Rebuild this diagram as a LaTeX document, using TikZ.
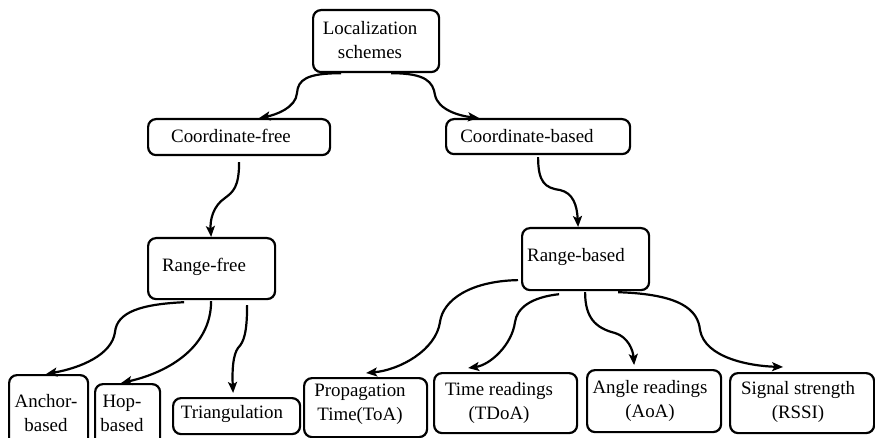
\documentclass[tikz,border=0pt]{standalone}
\usepackage{fontspec}
\setmainfont{Liberation Serif}
\usetikzlibrary{arrows.meta}
\begin{document}
\begin{tikzpicture}[x=1pt,y=-1pt,
  box/.style={draw, line width=2.2pt, rounded corners=8pt, inner sep=0pt, anchor=north west},
  lbl/.style={font=\fontsize{18.9}{24}\selectfont, align=center, inner sep=0pt},
  conn/.style={line width=2.2pt, -{Stealth[length=11pt,width=9pt,inset=2.5pt]}}]
\useasboundingbox (0,0) rectangle (875,438);
\clip (0,0) rectangle (875,438);

% boxes: top-left corner, width, height
\node[box, minimum width=126pt, minimum height=62pt] (ls) at (312,9) {};
\node[box, minimum width=182pt, minimum height=36pt] (cf) at (147,118) {};
\node[box, minimum width=184pt, minimum height=35pt] (cb) at (445,118) {};
\node[box, minimum width=127pt, minimum height=61pt] (rf) at (147,237) {};
\node[box, minimum width=127pt, minimum height=62pt] (rb) at (521,227) {};
\node[box, minimum width=79pt, minimum height=74pt] (ab) at (8,374) {};
\node[box, minimum width=65pt, minimum height=65pt] (hb) at (94,383) {};
\node[box, minimum width=127pt, minimum height=36pt] (tr) at (172,397) {};
\node[box, minimum width=123pt, minimum height=59pt] (pt) at (303,377) {};
\node[box, minimum width=143pt, minimum height=60pt] (tdoa) at (433,372) {};
\node[box, minimum width=134pt, minimum height=62pt] (aoa) at (586,369) {};
\node[box, minimum width=144pt, minimum height=60pt] (rssi) at (729,372) {};

% texts
\node[lbl] (lsT) at (370,40) {Localization\\schemes};
\node[lbl] (cfT) at (231,136) {Coordinate-free};
\node[lbl] (cbT) at (527,136) {Coordinate-based};
\node[lbl] (rfT) at (204,267) {Range-free};
\node[lbl] (rbT) at (576,257) {Range-based};
\node[lbl] (abT) at (46,413) {Anchor-\\based};
\node[lbl] (hbT) at (122,413) {Hop-\\based};
\node[lbl] (trT) at (232,414) {Triangulation};
\node[lbl] (ptT) at (360,404) {Propagation\\Time(ToA)};
\node[lbl] (tdoaT) at (499,403) {Time readings\\(TDoA)};
\node[lbl] (aoaT) at (650,401) {Angle readings\\(AoA)};
\node[lbl] (rssiT) at (798,402) {Signal strength\\(RSSI)};

% connectors
\draw[conn] ([xshift=-35pt]ls.south) .. controls +(-35,0) and (298,80) .. (297,93)
  .. controls (296,108) and (275,115) .. ([xshift=20pt]cf.north);
\draw[conn] ([xshift=15pt]ls.south) .. controls +(35,0) and (433,82) .. (435,95)
  .. controls (438,110) and (460,116) .. ([xshift=-59pt]cb.north);
\draw[conn] ([yshift=-6pt]cf.south) .. controls +(0,25) and (233,192) .. (225,198)
  .. controls (213,206) and (210,220) .. ([xshift=-0.5pt]rf.north);
\draw[conn] ([yshift=-2pt]cb.south) .. controls +(0,25) and (545,188) .. (560,190)
  .. controls (573,193) and (577,205) .. ([xshift=-7.5pt]rb.north);
\draw[conn] ([xshift=-27.5pt,yshift=-2pt]rf.south) .. controls +(-43,2) and (117,312) .. (115,332)
  .. controls (112,355) and (80,368) .. ([xshift=-2.5pt]ab.north);
\draw[conn] ([xshift=-0.5pt,yshift=-1pt]rf.south) .. controls +(0,45) and (170,372) .. ([xshift=-6.5pt]hb.north);
\draw[conn] ([xshift=35.5pt,yshift=-5pt]rf.south) .. controls +(0,27) and (244,342) .. (238,348)
  .. controls (233,355) and (232,370) .. ([xshift=-3.5pt,yshift=4pt]tr.north);
\draw[conn] ([xshift=-3pt,yshift=-21pt]rb.west) .. controls +(-48,1) and (443,300) .. (440,322)
  .. controls (436,350) and (400,370) .. ([xshift=0.5pt,yshift=4pt]pt.north);
\draw[conn] ([xshift=-26.5pt,yshift=-3pt]rb.south) .. controls +(-28,3) and (517,308) .. (515,322)
  .. controls (512,345) and (490,365) .. ([xshift=-37.5pt,yshift=4pt]tdoa.north);
\draw[conn] ([xshift=-0.5pt,yshift=-1pt]rb.south) .. controls +(0,25) and (595,328) .. (615,333)
  .. controls (628,337) and (633,350) .. ([xshift=-20pt,yshift=4pt]aoa.north);
\draw[conn] ([xshift=32.5pt,yshift=-1pt]rb.south) .. controls +(63,2) and (698,310) .. (700,330)
  .. controls (705,358) and (750,366) .. ([xshift=-19pt,yshift=5pt]rssi.north);
\end{tikzpicture}
\end{document}
